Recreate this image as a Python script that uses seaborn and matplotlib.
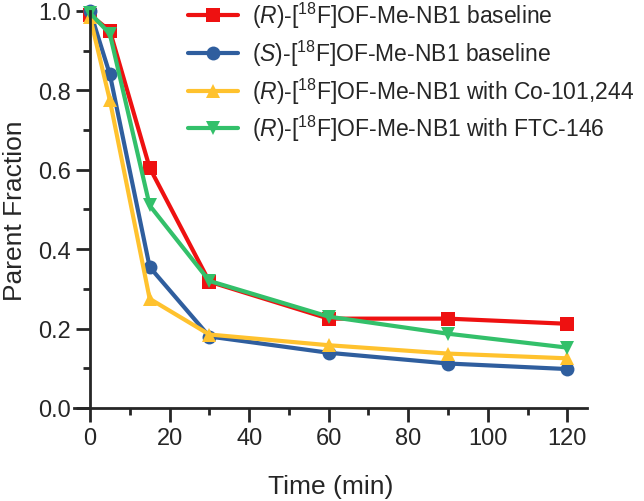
import numpy as np
import pandas as pd
import seaborn as sns
import matplotlib
matplotlib.use("Agg")
import matplotlib.pyplot as plt
from matplotlib.ticker import MultipleLocator

# Data
time_min = [0, 5, 15, 30, 60, 90, 120]
r_baseline = [0.99, 0.95, 0.605, 0.318, 0.225, 0.225, 0.212]
s_baseline = [1.0, 0.84, 0.355, 0.18, 0.139, 0.112, 0.098]
r_co101244 = [0.985, 0.775, 0.275, 0.185, 0.158, 0.137, 0.125]
r_ftc146 = [0.995, 0.942, 0.51, 0.32, 0.23, 0.187, 0.152]

labels = [
    r"($\it{R}$)-[$^{18}$F]OF-Me-NB1 baseline",
    r"($\it{S}$)-[$^{18}$F]OF-Me-NB1 baseline",
    r"($\it{R}$)-[$^{18}$F]OF-Me-NB1 with Co-101,244",
    r"($\it{R}$)-[$^{18}$F]OF-Me-NB1 with FTC-146",
]
colors = ["#EE1111", "#2F5E9E", "#FFC22E", "#33C06A"]
markers = ["s", "o", "^", "v"]

series = [r_baseline, s_baseline, r_co101244, r_ftc146]
df = pd.concat(
    [pd.DataFrame({"Time": time_min, "Fraction": vals, "Group": lab})
     for lab, vals in zip(labels, series)],
    ignore_index=True,
)

sns.set_style("ticks")
plt.rcParams["font.family"] = ["Liberation Sans", "DejaVu Sans"]
plt.rcParams["mathtext.fontset"] = "custom"
plt.rcParams["mathtext.rm"] = "Liberation Sans"
plt.rcParams["mathtext.it"] = "Liberation Sans:italic"

fig = plt.figure(figsize=(6.44, 5.02), dpi=100)
ax = fig.add_axes([0.115, 0.1853, 0.797, 0.791])

sns.lineplot(
    data=df, x="Time", y="Fraction", hue="Group", style="Group",
    palette=dict(zip(labels, colors)), markers=dict(zip(labels, markers)),
    dashes=False, linewidth=3, markersize=10, markeredgewidth=0,
    ax=ax, clip_on=False,
)

ax.set_xlim(-4, 125)
ax.set_ylim(0, 1.0)
ax.spines["left"].set_position(("data", 0))
ax.spines["right"].set_visible(False)
ax.spines["top"].set_visible(False)
for s in ["left", "bottom"]:
    ax.spines[s].set_linewidth(2)

ax.xaxis.set_minor_locator(MultipleLocator(10))
ax.yaxis.set_minor_locator(MultipleLocator(0.1))
ax.set_xticks(range(0, 121, 20))
ax.set_yticks(np.arange(0, 1.01, 0.2))
ax.set_yticklabels([f"{v:.1f}" for v in np.arange(0, 1.01, 0.2)])
ax.tick_params(which="major", length=10, width=2, labelsize=17, pad=4)
ax.tick_params(which="minor", length=5, width=2)

ax.set_xlabel("Time (min)", fontsize=19, labelpad=18)
ax.set_ylabel("Parent Fraction", fontsize=19)
ax.yaxis.set_label_coords(-0.092, 0.5)

handles, labs = ax.get_legend_handles_labels()
ax.legend(
    handles, labs, loc="upper left", bbox_to_anchor=(188 / 644, 0.998),
    bbox_transform=fig.transFigure, frameon=False, fontsize=16.5,
    handlelength=2.2, handletextpad=0.6, labelspacing=0.33,
    borderpad=0, borderaxespad=0,
)

fig.savefig("out.png", dpi=100)
